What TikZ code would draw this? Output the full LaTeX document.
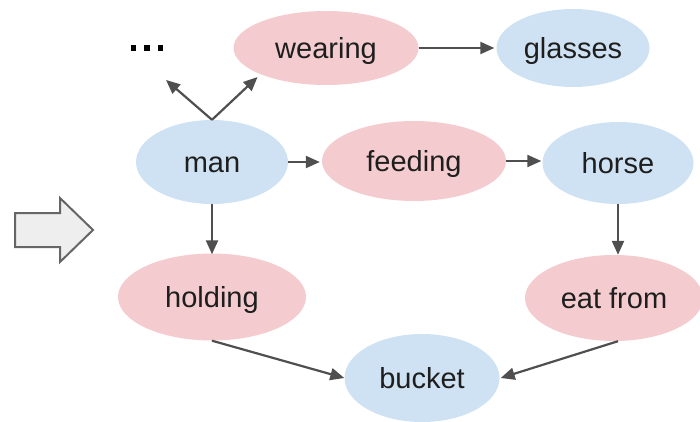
\documentclass[tikz,border=0pt]{standalone}
\usepackage{fontspec}
\setmainfont{Liberation Sans}
\usetikzlibrary{shapes.geometric,arrows.meta}

\definecolor{relfill}{HTML}{F4CCCF}
\definecolor{objfill}{HTML}{CFE2F3}
\definecolor{edgegray}{HTML}{4F4F4F}
\definecolor{txt}{HTML}{1E1E1E}
\definecolor{bigarrowfill}{HTML}{EEEEEE}
\definecolor{bigarrowline}{HTML}{666666}

\tikzset{
  gnode/.style={ellipse, inner sep=0pt, text=txt, text height=21pt, text depth=0pt,
    font=\fontsize{29}{32}\selectfont},
  relnode/.style={gnode, fill=relfill},
  objnode/.style={gnode, fill=objfill},
  link/.style={draw=edgegray, line width=2.2pt, -{Triangle[length=14pt,width=12pt]}},
}

\begin{document}
\begin{tikzpicture}[x=1pt, y=-1pt]
  \useasboundingbox (0,0) rectangle (700,422);

  % big hollow arrow on the left
  \draw[fill=bigarrowfill, draw=bigarrowline, line width=2pt, line join=miter]
    (15,213) -- (60,213) -- (60,198) -- (93,230) -- (60,262) -- (60,247) -- (15,247) -- cycle;

  % scene graph nodes
  \node[relnode, minimum width=185pt, minimum height=74pt] (wearing) at (326,48) {wearing};
  \node[objnode, minimum width=153pt, minimum height=78pt] (glasses) at (573,48) {glasses};
  \node[objnode, minimum width=152pt, minimum height=84pt] (man) at (212,162) {man};
  \node[relnode, minimum width=184pt, minimum height=80pt] (feeding) at (414,161) {feeding};
  \node[objnode, minimum width=151pt, minimum height=82pt] (horse) at (618,163) {horse};
  \node[relnode, minimum width=188pt, minimum height=87pt] (holding) at (212,297) {holding};
  \node[relnode, minimum width=178pt, minimum height=86pt] (eatfrom) at (614,298) {eat from};
  \node[objnode, minimum width=155pt, minimum height=88pt] (bucket) at (422,378) {bucket};

  % ellipsis for further relations
  \node[inner sep=0pt] (more) at (147,48)
    {\tikz[x=1pt,y=1pt]{\foreach \i in {0,13.5,27} \fill[black] (\i,0) rectangle ++(5.5,5.5);}};
  \coordinate (moretip) at (166,80);

  % connectors
  \draw[link] (man.north) -- (moretip);
  \draw[link, shorten >=4pt] (man.north) -- (wearing.south west);
  \draw[link] (wearing.east) -- ([xshift=-2pt]wearing.east -| glasses.west);
  \draw[link] (man.east) -- ([xshift=-2pt]man.east -| feeding.west);
  \draw[link] (feeding.east) -- ([xshift=-1pt]feeding.east -| horse.west);
  \draw[link] (man.south) -- ([yshift=-1pt]holding.north);
  \draw[link] (horse.south) -- (horse.south |- eatfrom.north);
  \draw[link] (holding.south) -- (bucket.west);
  \draw[link] ([xshift=4pt]eatfrom.south) -- ([xshift=1pt]bucket.east);
\end{tikzpicture}
\end{document}
